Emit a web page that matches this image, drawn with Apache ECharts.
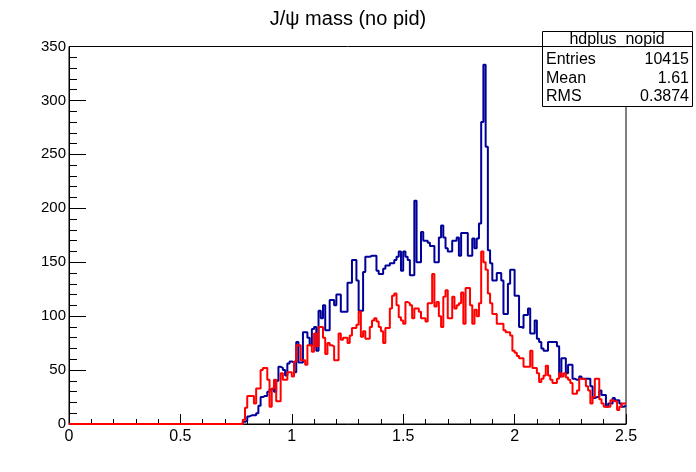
<!DOCTYPE html>
<html>
<head>
<meta charset="utf-8">
<script src="https://cdn.jsdelivr.net/npm/echarts@6/dist/echarts.min.js"></script>
<style>
  html, body { margin: 0; padding: 0; background: #fff; }
  #chart { width: 696px; height: 472px; }
</style>
</head>
<body>
<div id="chart"></div>
<script>
// histogram binning: 0.01 wide bins, first filled bin at 0.77
var binWidth = 0.01;
var firstBin = 0.77;
var xMin = 0, xMax = 2.5;

// hdplus_nopid, bins 0.77 .. 2.49
var blueCounts = [
  0, 2, 3, 7, 8, 8, 8, 10, 17, 25,
  26, 26, 30, 32, 33, 30, 40, 53, 52, 50,
  45, 56, 58, 57, 48, 76, 57, 57, 85, 85,
  80, 73, 88, 90, 68, 105, 98, 110, 87, 87,
  115, 115, 110, 120, 120, 104, 104, 104, 131, 131,
  152, 152, 133, 105, 105, 141, 155, 155, 156, 156,
  156, 142, 139, 139, 144, 147, 147, 149, 149, 152,
  155, 160, 142, 160, 155, 152, 138, 138, 207, 150,
  150, 178, 170, 170, 168, 165, 165, 150, 150, 173,
  184, 173, 163, 160, 160, 170, 170, 173, 156, 177,
  177, 177, 156, 156, 172, 163, 172, 186, 280, 333,
  257, 161, 149, 133, 133, 140, 140, 133, 102, 102,
  130, 143, 143, 119, 119, 90, 89, 101, 101, 107,
  84, 84, 96, 79, 76, 70, 68, 68, 76, 76,
  76, 76, 72, 44, 61, 61, 47, 55, 55, 42,
  41, 41, 44, 42, 42, 42, 42, 35, 24, 25,
  25, 31, 27, 27, 16, 19, 19, 24, 22, 22,
  19, 16, 17
];

// second histogram (red), bins 0.77 .. 2.49
var redCounts = [
  0, 4, 15, 26, 26, 26, 19, 33, 33, 50,
  52, 52, 41, 16, 33, 41, 21, 21, 47, 41,
  41, 48, 48, 44, 58, 73, 73, 59, 59, 55,
  73, 73, 67, 84, 72, 90, 90, 80, 65, 75,
  73, 72, 59, 59, 84, 78, 80, 80, 75, 82,
  89, 89, 92, 104, 81, 86, 79, 79, 90, 96,
  98, 95, 90, 86, 75, 89, 89, 107, 119, 121,
  110, 99, 96, 93, 113, 112, 110, 98, 107, 107,
  104, 98, 98, 95, 112, 112, 139, 109, 113, 100,
  90, 118, 124, 98, 98, 118, 107, 110, 112, 122,
  93, 126, 126, 110, 93, 106, 100, 112, 160, 150,
  143, 121, 112, 102, 102, 93, 93, 93, 87, 85,
  85, 82, 68, 66, 63, 61, 61, 53, 53, 53,
  68, 52, 52, 47, 39, 42, 45, 54, 45, 41,
  38, 38, 42, 47, 44, 47, 43, 41, 38, 28,
  28, 31, 42, 42, 41, 35, 31, 19, 25, 42,
  42, 23, 19, 16, 16, 16, 22, 21, 21, 13,
  16, 19, 19
];

var titleText = 'J/\u03c8 mass (no pid)';
var statsName = 'hdplus_nopid';
var statsRows = [['Entries', '10415'], ['Mean', '1.61'], ['RMS', '0.3874']];

var FONT = 'Liberation Sans';

// turn bin contents into left-edge points for a step line
function toSteps(counts){
  var pts = [[xMin, 0]];
  for (var i = 0; i < counts.length; i++) {
    pts.push([+(firstBin + i * binWidth).toFixed(2), counts[i]]);
  }
  pts.push([xMax, counts[counts.length - 1]]);
  return pts;
}

var chart = echarts.init(document.getElementById('chart'), null, {renderer: 'canvas'});

var statsGraphic = [
  {type: 'rect', shape: {x: 542.5, y: 31.5, width: 150, height: 75},
   style: {fill: '#fff', stroke: '#000', lineWidth: 1}, z: 100},
  {type: 'line', shape: {x1: 542.5, y1: 46.5, x2: 692.5, y2: 46.5},
   style: {stroke: '#000', lineWidth: 1}, z: 101},
  {type: 'text', x: 617, y: 39.5, z: 101,
   style: {text: statsName, fontFamily: FONT, fontSize: 16, fill: '#000', align: 'center', verticalAlign: 'middle'}}
];
statsRows.forEach(function(r, i){
  var y = 60 + i * 18.5;
  statsGraphic.push({type: 'text', x: 546, y: y, z: 101,
    style: {text: r[0], fontFamily: FONT, fontSize: 16, fill: '#000', align: 'left', verticalAlign: 'middle'}});
  statsGraphic.push({type: 'text', x: 689, y: y, z: 101,
    style: {text: r[1], fontFamily: FONT, fontSize: 16, fill: '#000', align: 'right', verticalAlign: 'middle'}});
});

var option = {
  backgroundColor: '#fff',
  animation: false,
  title: {
    text: titleText,
    left: 'center',
    top: 4,
    textStyle: {fontFamily: FONT, fontSize: 20, fontWeight: 'normal', color: '#000'}
  },
  grid: {
    left: 69, right: 70, top: 46.5, bottom: 48,
    show: true, borderColor: '#000', borderWidth: 1, backgroundColor: 'transparent'
  },
  xAxis: {
    type: 'value',
    min: xMin, max: xMax, interval: 0.5,
    axisLine: {show: true, onZero: false, lineStyle: {color: '#000', width: 1}},
    axisTick: {show: true, inside: true, length: 10, lineStyle: {color: '#000', width: 1}},
    minorTick: {show: true, splitNumber: 5, length: 5, lineStyle: {color: '#000', width: 1}},
    splitLine: {show: false},
    axisLabel: {color: '#000', fontFamily: FONT, fontSize: 16, margin: 5,
                showMinLabel: true, showMaxLabel: true}
  },
  yAxis: {
    type: 'value',
    min: 0, max: 350, interval: 50,
    axisLine: {show: true, lineStyle: {color: '#000', width: 1}},
    axisTick: {show: true, inside: true, length: 17, lineStyle: {color: '#000', width: 1}},
    minorTick: {show: true, splitNumber: 5, length: 8, lineStyle: {color: '#000', width: 1}},
    splitLine: {show: false},
    axisLabel: {color: '#000', fontFamily: FONT, fontSize: 15, margin: 3}
  },
  series: [
    {
      name: statsName,
      type: 'line',
      step: 'end',
      showSymbol: false,
      data: toSteps(blueCounts),
      lineStyle: {color: '#000099', width: 2},
      z: 2
    },
    {
      name: 'red',
      type: 'line',
      step: 'end',
      showSymbol: false,
      data: toSteps(redCounts),
      lineStyle: {color: '#ff0000', width: 2},
      z: 3
    }
  ],
  graphic: statsGraphic
};

chart.setOption(option);
</script>
</body>
</html>
